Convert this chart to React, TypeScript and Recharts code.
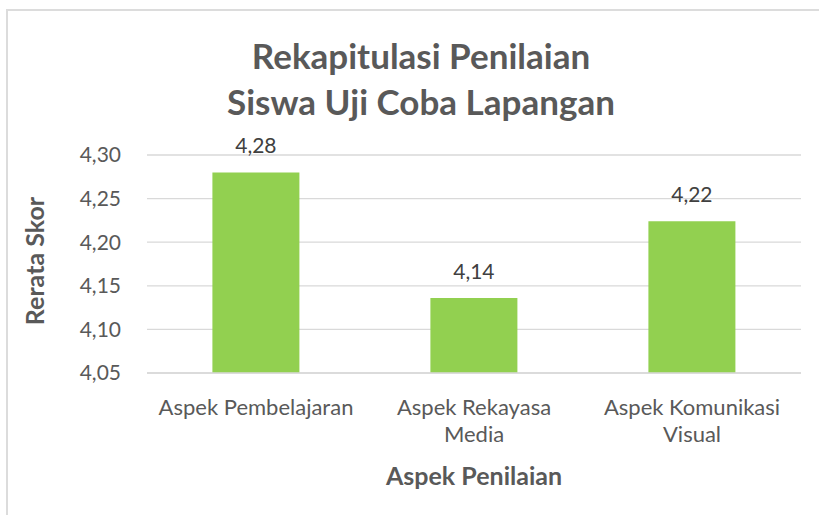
import React from 'react'
import { BarChart, Bar, XAxis, YAxis, CartesianGrid, LabelList } from 'recharts'

const categories = ['Aspek Pembelajaran', 'Aspek Rekayasa Media', 'Aspek Komunikasi Visual']
const scores = [4.28, 4.136, 4.224]
const yTicks = [4.05, 4.1, 4.15, 4.2, 4.25, 4.3]

const data = categories.map((aspek, i) => ({ aspek, skor: scores[i] }))

const FONT = 'Lato, "Open Sans", sans-serif'
const GRAY = '#595959'

const comma = (v: number) => v.toFixed(2).replace('.', ',')

// wrap long category names the way the spreadsheet does
function wrap(text: string, max = 18): string[] {
  if (text.length <= max) return [text]
  const cut = text.lastIndexOf(' ', max)
  return [text.slice(0, cut), text.slice(cut + 1)]
}

function CategoryTick(props: any) {
  const { x, y, payload } = props
  const lines = wrap(payload.value)
  return (
    <text x={x} y={y} textAnchor='middle' fill={GRAY} fontSize={22} fontFamily={FONT}>
      {lines.map((l, i) => (
        <tspan key={i} x={x} dy={i === 0 ? 34 : 27}>
          {l}
        </tspan>
      ))}
    </text>
  )
}

export default function App() {
  return (
    <div style={{ position: 'absolute', left: 0, top: 0, width: 819, height: 515, overflow: 'hidden', background: '#fff' }}>
      <div
        style={{
          position: 'absolute',
          left: 6,
          top: 9,
          width: 840,
          height: 540,
          border: '2px solid #dcdcdc',
        }}
      />
      <div
        style={{
          position: 'absolute',
          left: 0,
          width: 842,
          top: 32,
          textAlign: 'center',
          fontFamily: FONT,
          fontWeight: 700,
          fontSize: 35,
          lineHeight: '46px',
          color: GRAY,
        }}
      >
        Rekapitulasi Penilaian
        <br />
        Siswa Uji Coba Lapangan
      </div>
      <div
        style={{
          position: 'absolute',
          left: 34,
          top: 261,
          transform: 'translate(-50%, -50%) rotate(-90deg)',
          whiteSpace: 'nowrap',
          fontFamily: FONT,
          fontWeight: 700,
          fontSize: 25,
          color: GRAY,
        }}
      >
        Rerata Skor
      </div>
      <div
        style={{
          position: 'absolute',
          left: 474,
          top: 475,
          transform: 'translate(-50%, -50%)',
          whiteSpace: 'nowrap',
          fontFamily: FONT,
          fontWeight: 700,
          fontSize: 25,
          color: GRAY,
        }}
      >
        Aspek Penilaian
      </div>
      <div style={{ position: 'absolute', left: 0, top: 0 }}>
        <BarChart
          width={819}
          height={515}
          data={data}
          barCategoryGap='30%'
          margin={{ top: 155, right: 18, left: 67, bottom: 52 }}
        >
          <CartesianGrid vertical={false} stroke='#d9d9d9' strokeWidth={1.3} />
          <XAxis
            dataKey='aspek'
            height={90}
            axisLine={{ stroke: '#d9d9d9', strokeWidth: 1.3 }}
            tickLine={false}
            interval={0}
            tick={<CategoryTick />}
          />
          <YAxis
            width={80}
            domain={[4.05, 4.3]}
            ticks={yTicks}
            allowDataOverflow
            axisLine={false}
            tickLine={false}
            tickMargin={20}
            tickFormatter={comma}
            tick={{ fill: GRAY, fontSize: 21, fontFamily: FONT }}
          />
          <Bar dataKey='skor' fill='#92D050' isAnimationActive={false}>
            <LabelList
              dataKey='skor'
              position='top'
              offset={19}
              formatter={(v: any) => comma(Number(v))}
              fill='#404040'
              fontSize={21}
              fontFamily={FONT}
            />
          </Bar>
        </BarChart>
      </div>
    </div>
  )
}
